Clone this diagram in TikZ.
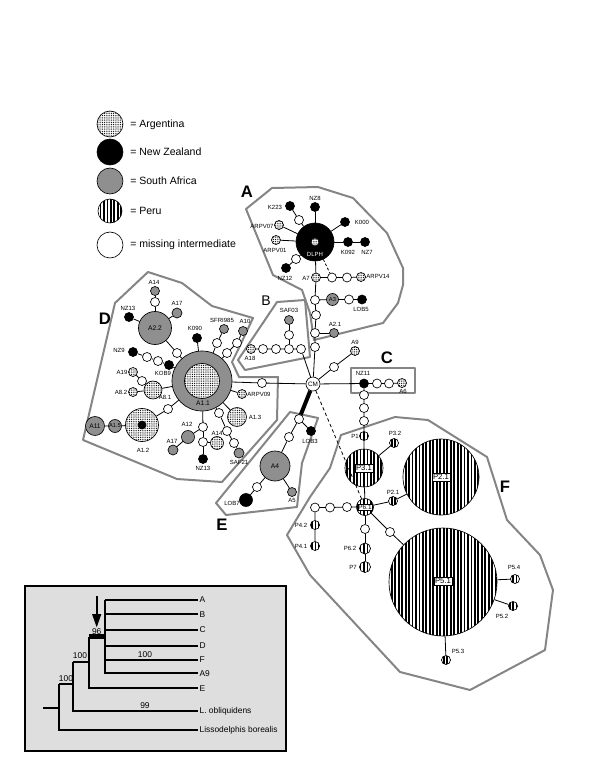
\documentclass[tikz,border=0pt]{standalone}
\usepackage{fontspec}
\setmainfont{Liberation Sans}
\usetikzlibrary{patterns.meta,arrows.meta}
\definecolor{sagray}{gray}{0.56}
\definecolor{polygray}{gray}{0.52}
\definecolor{boxgray}{gray}{0.87}
\begin{document}
\begin{tikzpicture}[x=0.75pt,y=-0.75pt,
  hnode/.style={circle,draw=black,line width=0.5pt,inner sep=0pt,minimum size={#1*1.5pt}},
  hmi/.style={hnode=#1,fill=white}, hmi/.default=4.5,
  hnz/.style={hnode=#1,fill=black}, hnz/.default=4.5,
  hsa/.style={hnode=#1,fill=sagray}, hsa/.default=4.5,
  har/.style={hnode=#1,preaction={fill=white},pattern={Dots[distance=1.35pt,radius=0.38pt]}}, har/.default=4.5,
  hpe/.style={hnode=#1,preaction={fill=white},pattern={Lines[angle=90,distance=2.6pt,line width=1.4pt]}}, hpe/.default=4.5,
  lab/.style={font=\fontsize{4.5}{5}\selectfont,inner sep=0pt},
  inl/.style={font=\fontsize{5}{6}\selectfont,inner sep=0pt},
  plab/.style={font=\fontsize{5.8}{7}\selectfont,fill=white,draw=black,line width=0.4pt,inner sep=0.8pt},
  grp/.style={draw=polygray,line width=1.5pt,line join=round},
  big/.style={font=\fontsize{12.5}{14}\selectfont\bfseries,inner sep=0pt},
  leg/.style={font=\fontsize{7.9}{9}\selectfont,inner sep=0pt,anchor=west},
  lnk/.style={line width=0.6pt},
  tl/.style={font=\fontsize{6.3}{7}\selectfont,inner sep=1pt,anchor=west},
  tree/.style={line width=1.25pt}
]
\useasboundingbox (0,0) rectangle (600,776);

% ---------- legend ----------
\node[har=13] (lg1) at (110,124) {};
\node[leg] (lt1) at (130,125) {= Argentina};
\node[hnz=13] (lg2) at (110,152) {};
\node[leg] (lt2) at (130,152) {= New Zealand};
\node[hsa=13] (lg3) at (110,181) {};
\node[leg] (lt3) at (130,181) {= South Africa};
\node[hpe=12] (lg4) at (110,211) {};
\node[leg] (lt4) at (130,211) {= Peru};
\node[hmi=13] (lg5) at (110,245) {};
\node[leg] (lt5) at (130,245) {= missing intermediate};

% ---------- group outlines ----------
\draw[grp] (246,209) -- (272,188) -- (318,187) -- (353,198) -- (387,233) -- (403,268) -- (403,285) -- (398,303) -- (383,323) -- (314,340) -- (310,313) -- (302,290) -- (273,275) -- cycle;
\draw[grp] (277,302) -- (305,300) -- (310,357) -- (245,370) -- (238,360) -- cycle;
\draw[grp] (351,368) rectangle (415,393);
\draw[grp] (148,272) -- (182,283) -- (212,306) -- (253,318) -- (237,352) -- (232,362) -- (239,377) -- (278,377) -- (277,420) -- (222,482) -- (177,479) -- (83,440) -- (115,303) -- cycle;
\draw[grp] (290,412) -- (318,418) -- (302,463) -- (297,507) -- (226,515) -- (216,503) -- cycle;
\draw[grp] (341,435) -- (395,417) -- (428,420) -- (487,457) -- (507,520) -- (540,555) -- (553,590) -- (545,650) -- (470,690) -- (400,672) -- (310,575) -- (287,535) -- (310,497) -- (330,468) -- cycle;

% ---------- big letters ----------
\node[big] (gA) at (247,192) {A};
\node[big,font=\fontsize{10.5}{12}\selectfont] (gB) at (266,301) {B};
\node[big] (gC) at (387,358) {C};
\node[big] (gD) at (105,319) {D};
\node[big] (gE) at (222,525) {E};
\node[big] (gF) at (505,487) {F};

% ---------- cluster A ----------
\node[hnz=19] (dlph) at (315,242) {};
\node[har=4] (dlphin) at (315,242) {};
\node[lab,text=white] (ldlph) at (315,254) {DLPH};
\node[hnz] (nz8) at (315,207) {};
\node[lab] (lnz8) at (315,198) {NZ8};
\node[hnz] (k223) at (290,206) {};
\node[lab] (lk223) at (275,207) {K223};
\node[hmi] (m1) at (299,220) {};
\node[har] (arpv07) at (279,225) {};
\node[lab] (larpv07) at (262,226) {ARPV07};
\node[har] (arpv01) at (276,240) {};
\node[lab] (larpv01) at (275,250) {ARPV01};
\node[hmi] (m2) at (296,259) {};
\node[hnz] (nz12) at (286,268) {};
\node[lab] (lnz12) at (285,278) {NZ12};
\node[hnz] (k000) at (345,222) {};
\node[lab] (lk000) at (362,222) {K000};
\node[hnz] (k092) at (348,242) {};
\node[lab] (lk092) at (348,252) {K092};
\node[hnz] (nz7) at (365,242) {};
\node[lab] (lnz7) at (367,252) {NZ7};
\node[har] (a7) at (316,277.5) {};
\node[lab] (la7) at (306,278) {A7};
\node[hmi] (m3) at (332,277.5) {};
\node[hmi] (m4) at (347,277.5) {};
\node[har] (arpv14) at (361,277) {};
\node[lab] (larpv14) at (378,276) {ARPV14};
\node[hmi] (m5) at (315,300) {};
\node[hsa=6] (a3) at (332.5,299.5) {};
\node[inl,font=\fontsize{4.3}{5}\selectfont] (la3) at (332.5,299.5) {A3};
\node[hmi] (m6) at (349,299.5) {};
\node[hnz] (lob5) at (362,299.5) {};
\node[lab] (llob5) at (361,309) {LOB5};
\node[hmi] (m7) at (316,315) {};
\node[hmi] (m8) at (315,333) {};
\node[hsa] (a21) at (334,333) {};
\node[lab] (la21) at (335,324) {A2.1};
\node[hmi] (m9) at (315,347) {};
\node[hmi=7] (cm) at (313,384) {};
\node[inl,font=\fontsize{4.8}{5}\selectfont] (lcm) at (313,384) {CM};

\draw[lnk] (nz8) -- (dlph);
\draw[lnk] (k223) -- (m1) -- (dlph);
\draw[lnk] (arpv07) -- (dlph);
\draw[lnk] (arpv01) -- (dlph);
\draw[lnk] (nz12) -- (m2) -- (dlph);
\draw[lnk] (k000) -- (dlph);
\draw[lnk] (nz7) -- (k092) -- (dlph);
\draw[lnk] (dlph) -- (a7);
\draw[lnk] (a7) -- (m3) -- (m4) -- (arpv14);
\draw[lnk,dashed,dash pattern=on 2pt off 1.5pt] (dlph) -- (m3);
\draw[lnk] (a7) -- (m5) -- (m7) -- (m8) -- (m9) -- (cm);
\draw[lnk] (m5) -- (a3) -- (m6) -- (lob5);
\draw[lnk] (m8) -- (a21);

% ---------- cluster B ----------
\node[hsa] (saf03) at (289,320) {};
\node[lab] (lsaf03) at (289,310) {SAF03};
\node[hmi] (m10) at (289,335) {};
\node[har] (a18) at (251,349) {};
\node[lab] (la18) at (250,358) {A18};
\node[hmi] (m12) at (263,349) {};
\node[hmi] (m13) at (276,349) {};
\node[hmi] (m11) at (289,349) {};
\node[hmi] (m14) at (301,349) {};
\draw[lnk] (saf03) -- (m10) -- (m11);
\draw[lnk] (a18) -- (m12) -- (m13) -- (m11) -- (m14) -- (cm);

% ---------- A9 ----------
\node[har] (a9) at (355,351) {};
\node[lab] (la9) at (355,342) {A9};
\node[hmi] (m15) at (334,367) {};
\draw[lnk] (cm) -- (m15) -- (a9);

% ---------- cluster C ----------
\node[hnz] (nz11) at (364,383.5) {};
\node[lab] (lnz11) at (363,373.5) {NZ11};
\node[hmi] (m16) at (377,383.5) {};
\node[hmi] (m17) at (389,383.5) {};
\node[har] (a6) at (402,383) {};
\node[lab] (la6) at (403,391) {A6};
\draw[lnk] (cm) -- (nz11) -- (m16) -- (m17) -- (a6);

% ---------- cluster F ----------
\node[hmi] (m19) at (364,395) {};
\node[hmi] (m20) at (364,408) {};
\node[hmi] (m21) at (364,421) {};
\node[hpe] (p1) at (364,436) {};
\node[lab] (lp1) at (355,436) {P1};
\node[hpe=19] (p31) at (364,468) {};
\node[plab] (lp31) at (364,468) {P3.1};
\node[hpe] (p32) at (394,443) {};
\node[lab] (lp32) at (395,433) {P3.2};
\node[hpe=38] (p21) at (441,477) {};
\node[plab] (lp21) at (441,477) {P2.1};
\node[hpe=8.5] (p61) at (365,507) {};
\node[plab,font=\fontsize{4.8}{5}\selectfont,inner sep=0.4pt] (lp61) at (365,507) {P6.1};
\node[hpe] (p21s) at (393,501) {};
\node[lab] (lp21s) at (393,492) {P2.1};
\node[hmi] (m22) at (347,507) {};
\node[hmi] (m23) at (330,507.5) {};
\node[hmi] (m24) at (315,507.5) {};
\node[hpe] (p42) at (315,525) {};
\node[lab] (lp42) at (301,525) {P4.2};
\node[hpe] (p41) at (315,546) {};
\node[lab] (lp41) at (301,546) {P4.1};
\node[hmi] (m25) at (365,529) {};
\node[hpe=5.5] (p62) at (365,548.5) {};
\node[lab] (lp62) at (350,548) {P6.2};
\node[hpe=5.5] (p7) at (365,567) {};
\node[lab] (lp7) at (353,567) {P7};
\node[hmi] (m26) at (390,532) {};
\node[hpe=54] (p51) at (443,582) {};
\node[plab] (lp51) at (443,581) {P5.1};
\node[hpe] (p54) at (515,579) {};
\node[lab] (lp54) at (514,567) {P5.4};
\node[hpe] (p52) at (513,606) {};
\node[lab] (lp52) at (502,616) {P5.2};
\node[hpe] (p53) at (446,660) {};
\node[lab] (lp53) at (458,651) {P5.3};

\draw[lnk] (nz11) -- (m19) -- (m20) -- (m21) -- (p1) -- (p31) -- (p61);
\draw[lnk] (p32) -- (p31);
\draw[lnk] (p61) -- (p21s) -- (p21);
\draw[lnk] (p61) -- (m26) -- (p51);
\draw[lnk] (p61) -- (m25) -- (p62) -- (p7);
\draw[lnk] (p61) -- (m22) -- (m23) -- (m24) -- (p42) -- (p41);
\draw[lnk] (p51) -- (p54);
\draw[lnk] (p51) -- (p52);
\draw[lnk] (p51) -- (p53);
\draw[lnk,dashed,dash pattern=on 2.5pt off 2pt] (cm) -- (p61);

% ---------- cluster E ----------
\node[hmi] (m27) at (299,419) {};
\node[hnz] (lob3) at (311,431) {};
\node[lab] (llob3) at (310,441) {LOB3};
\node[hmi] (m28) at (289,437) {};
\node[hsa=15] (a4) at (275,466) {};
\node[inl] (la4) at (275,466) {A4};
\node[hsa] (a5) at (292,492) {};
\node[lab] (la5) at (292,500) {A5};
\node[hmi] (m29) at (257,487) {};
\node[hnz=6.5] (lob7) at (246,500) {};
\node[lab] (llob7) at (232,503) {LOB7};
\draw[line width=3pt] (cm) -- (m27);
\draw[lnk] (m27) -- (lob3);
\draw[lnk] (m27) -- (m28) -- (a4) -- (a5);
\draw[lnk] (a4) -- (m29) -- (lob7);

% ---------- cluster D ----------
\node[hsa=16.5] (a22) at (155,328) {};
\node[inl] (la22) at (155,328) {A2.2};
\node[hsa] (a14t) at (155,291) {};
\node[lab] (la14t) at (154,282) {A14};
\node[hmi] (m30) at (155,302) {};
\node[hsa=5] (a17t) at (177,313) {};
\node[lab] (la17t) at (177,303) {A17};
\node[hnz] (nz13t) at (129,317) {};
\node[lab] (lnz13t) at (128,308) {NZ13};
\node[hsa=30] (a11) at (202,381) {};
\node[har=17.5] (a11in) at (202,381) {};
\node[inl] (la11) at (203,403) {A1.1};
\node[hmi] (m31) at (177,353) {};
\node[hnz] (k090) at (197,338) {};
\node[lab] (lk090) at (195,328) {K090};
\node[hmi] (m32) at (217,343) {};
\node[hsa] (sfri) at (224,329) {};
\node[lab] (lsfri) at (222,320) {SFRI985};
\node[hmi] (m33) at (227,353) {};
\node[hmi] (m34) at (237,343) {};
\node[hsa] (a10) at (243,331) {};
\node[lab] (la10) at (245,321) {A10};
\node[hnz] (nz9) at (133,352) {};
\node[lab] (lnz9) at (119,350) {NZ9};
\node[hmi] (m35) at (147,357) {};
\node[hmi] (m36) at (158,361) {};
\node[hnz] (kob9) at (169,365) {};
\node[lab] (lkob9) at (163,373) {KOB9};
\node[har] (a19) at (133,372) {};
\node[lab] (la19) at (122,372) {A19};
\node[hmi] (m37) at (142,381) {};
\node[har=9] (a81) at (153,390) {};
\node[lab] (la81) at (165,397) {A8.1};
\node[har] (a82) at (133,392) {};
\node[lab] (la82) at (121,392) {A8.2};
\node[hmi] (m38) at (168,409) {};
\node[har=16.5] (a12big) at (142,425) {};
\node[hnz=4] (a12in) at (142,425) {};
\node[lab] (la12big) at (143,450) {A1.2};
\node[hsa=6.5] (a15) at (115,426) {};
\node[inl,font=\fontsize{4.3}{5}\selectfont] (la15) at (115,426) {A1.5};
\node[hsa=9.5] (a11s) at (95,426) {};
\node[inl] (la11s) at (95,426) {A11};
\node[har] (arpv09) at (242,394) {};
\node[lab] (larpv09) at (259,394) {ARPV09};
\node[har=9.5] (a13) at (237,417) {};
\node[lab] (la13) at (255,417) {A1.3};
\node[hmi] (m39) at (203,427) {};
\node[hsa=6.5] (a12) at (188,437) {};
\node[lab] (la12) at (187,424) {A12};
\node[hsa=5] (a17b) at (173,450) {};
\node[lab] (la17b) at (172,441) {A17};
\node[hmi] (m40) at (203,442) {};
\node[hnz] (nz13b) at (203,459) {};
\node[lab] (lnz13b) at (203,468) {NZ13};
\node[har=6.5] (a14b) at (217,443) {};
\node[lab] (la14b) at (217,433) {A14};
\node[hmi] (m41) at (219,413) {};
\node[hmi] (m42) at (227,431) {};
\node[hmi] (m43) at (234,443) {};
\node[hsa=5] (saf21) at (239,453) {};
\node[lab] (lsaf21) at (239,462) {SAF21};
\node[hmi] (m18) at (262,383) {};

\draw[lnk] (a14t) -- (m30) -- (a22);
\draw[lnk] (a17t) -- (a22);
\draw[lnk] (nz13t) -- (a22);
\draw[lnk] (a22) -- (m31) -- (a11);
\draw[lnk] (k090) -- (a11);
\draw[lnk] (a11) -- (m32) -- (sfri);
\draw[lnk] (a11) -- (m33) -- (m34) -- (a10);
\draw[lnk] (nz9) -- (m35) -- (m36) -- (kob9) -- (a11);
\draw[lnk] (a19) -- (m37) -- (a81) -- (a11);
\draw[lnk] (a82) -- (a81);
\draw[lnk] (a11) -- (m38) -- (a12big) -- (a15) -- (a11s);
\draw[lnk] (a11) -- (arpv09);
\draw[lnk] (a11) -- (a13);
\draw[lnk] (a11) -- (m39) -- (a12) -- (a17b);
\draw[lnk] (m39) -- (m40) -- (nz13b);
\draw[lnk] (m40) -- (a14b);
\draw[lnk] (a11) -- (m41) -- (m42) -- (m43) -- (saf21);
\draw[lnk] (a11) -- (m18) -- (cm);

% ---------- tree ----------
\draw[fill=boxgray,line width=1.5pt] (25,586) rectangle (286,751);
\node[tl] (tA) at (198,600) {A};
\node[tl] (tB) at (198,614.3) {B};
\node[tl] (tC) at (198,630) {C};
\node[tl] (tD) at (198,646) {D};
\node[tl] (tF) at (198,660) {F};
\node[tl] (tA9) at (198,673.3) {A9};
\node[tl] (tE) at (198,688.3) {E};
\node[tl] (tL) at (198,711) {L. obliquidens};
\node[tl] (tLB) at (198,730) {Lissodelphis borealis};
\coordinate (root) at (43.3,707.7);
\coordinate (n1) at (59.3,707.7);
\coordinate (n2) at (73.3,684);
\coordinate (n3) at (89.3,661.7);
\coordinate (n4) at (105.3,636.7);
\draw[tree] (root) -- (n1);
\draw[tree] (59.3,684) -- (59.3,730) -- (tLB.west);
\draw[tree] (59.3,684) -- (n2);
\draw[tree] (73.3,661.7) -- (73.3,711) -- (tL.west);
\draw[tree] (73.3,661.7) -- (n3);
\draw[tree] (89.3,636.7) -- (89.3,688.3) -- (tE.west);
\draw[line width=3.5pt] (89.3,636.7) -- (n4);
\draw[tree] (105.3,600) -- (105.3,673.3) -- (tA9.west);
\draw[tree] (105.3,600) -- (tA.west);
\draw[tree] (105.3,614.3) -- (tB.west);
\draw[tree] (105.3,630) -- (tC.west);
\draw[tree] (105.3,646) -- (tD.west);
\draw[tree] (105.3,660) -- (tF.west);
\node[tl,anchor=center] (b96) at (96.7,631.5) {96};
\node[tl,anchor=center] (b100a) at (80,656) {100};
\node[tl,anchor=center] (b100b) at (66,679) {100};
\node[tl,anchor=center] (b100c) at (145,655) {100};
\node[tl,anchor=center] (b99) at (145,706) {99};
\coordinate (arrS) at (96.7,596);
\coordinate (arrE) at (96.7,627.5);
\draw[line width=1.5pt,-{Triangle[width=6.5pt,length=10pt]}] (arrS) -- (arrE);
\end{tikzpicture}
\end{document}
